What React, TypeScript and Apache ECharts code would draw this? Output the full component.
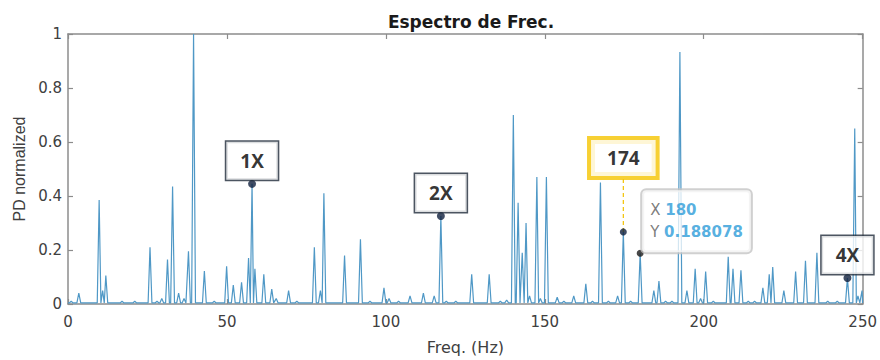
import React, { useEffect, useRef } from "react";
import * as echarts from "echarts";

// Spectrum peaks (frequency in Hz, normalized amplitude)
const peakFreqs = [
  1.0, 3.4, 9.8, 10.9, 11.9, 17.0, 21.0, 25.8, 28.0, 29.5, 31.3, 32.9, 34.8, 36.5, 37.9, 39.5,
  42.9, 46.0, 49.9, 52.0, 54.6, 56.8, 57.9, 58.8, 61.6, 64.1, 65.5, 69.4, 72.0, 77.5, 79.4,
  80.5, 87.0, 92.0, 95.0, 99.4, 101.0, 104.0, 107.6, 111.8, 115.2, 117.3, 119.0, 122.0, 127.0,
  132.5, 136.0, 138.0, 140.1, 141.6, 142.9, 144.1, 145.2, 147.5, 148.6, 150.5, 153.9, 156.0,
  159.1, 162.9, 165.0, 167.5, 170.0, 172.9, 174.7, 177.0, 180.0, 184.3, 185.9, 188.0, 190.0,
  192.5, 194.7, 197.3, 199.0, 200.6, 203.0, 207.7, 209.2, 211.7, 214.0, 216.0, 218.6, 220.6,
  221.7, 225.2, 228.9, 232.0, 235.6, 239.0, 242.0, 245.2, 247.5, 248.5, 249.8,
];
const peakAmps = [
  0.01, 0.04, 0.385, 0.05, 0.105, 0.01, 0.01, 0.21, 0.01, 0.02, 0.165, 0.435, 0.04, 0.02, 0.195, 1.0,
  0.122, 0.01, 0.14, 0.07, 0.08, 0.17, 0.445, 0.13, 0.11, 0.055, 0.02, 0.05, 0.01, 0.21, 0.05,
  0.41, 0.18, 0.24, 0.01, 0.06, 0.02, 0.01, 0.03, 0.04, 0.03, 0.326, 0.01, 0.01, 0.11,
  0.11, 0.01, 0.015, 0.7, 0.375, 0.19, 0.3, 0.03, 0.47, 0.02, 0.47, 0.025, 0.01,
  0.03, 0.075, 0.01, 0.45, 0.01, 0.03, 0.267, 0.01, 0.188078, 0.05, 0.085, 0.01, 0.01,
  0.933, 0.05, 0.13, 0.02, 0.12, 0.01, 0.175, 0.13, 0.125, 0.01, 0.01, 0.06, 0.11,
  0.137, 0.05, 0.12, 0.16, 0.19, 0.01, 0.01, 0.096, 0.65, 0.03, 0.05,
];
const baseLevel = 0.004;

// Harmonic markers
const markerLabels = ["1X", "2X", "4X"];
const markerFreqs = [57.9, 117.3, 245.2];
const markerAmps = [0.445, 0.326, 0.096];

// Highlighted "174" callout
const calloutLabel = "174";
const calloutFreq = 174.7;
const calloutAmp = 0.267;
const calloutBoxAmp = 0.474;

// Data tip
const tipFreq = 180;
const tipAmp = 0.188078;

const xTicks = { min: 0, max: 250, interval: 50 };
const yTicks = { min: 0, max: 1, interval: 0.2 };

function buildSpectrum(): number[][] {
  const pts: number[][] = [[xTicks.min, baseLevel]];
  for (let i = 0; i < peakFreqs.length; i++) {
    const f = peakFreqs[i];
    const prev = i > 0 ? peakFreqs[i - 1] : xTicks.min - 10;
    const next = i < peakFreqs.length - 1 ? peakFreqs[i + 1] : xTicks.max + 10;
    const wl = Math.min(0.6, (f - prev) / 2);
    const wr = Math.min(0.6, (next - f) / 2);
    pts.push([Math.max(xTicks.min, f - wl), baseLevel]);
    pts.push([f, peakAmps[i]]);
    pts.push([Math.min(xTicks.max, f + wr), baseLevel]);
  }
  pts.push([xTicks.max, baseLevel]);
  return pts;
}

const axisGrey = "#8c8c8c";
const textGrey = "#404040";

export default function App() {
  const ref = useRef<HTMLDivElement>(null);
  useEffect(() => {
    if (!ref.current) return;
    const chart = echarts.init(ref.current, undefined, { renderer: "svg" });
    const tickStyle = { show: true, inside: true, length: 5, lineStyle: { color: axisGrey, width: 1.2 } };
    const lineStyle = { show: true, onZero: false, lineStyle: { color: axisGrey, width: 1.5 } };
    const boxLabel = {
      fontFamily: "Open Sans",
      fontWeight: "bold",
      fontSize: 19,
      lineHeight: 22,
      color: "#000",
      backgroundColor: "#ffffff",
    };
    chart.setOption({
      animation: false,
      backgroundColor: "#ffffff",
      title: {
        text: "Espectro de Frec.",
        left: 466,
        top: 8,
        textAlign: "center",
        textStyle: { fontFamily: "DejaVu Sans", fontWeight: "bold", fontSize: 17, color: "#1a1a1a" },
      },
      grid: { left: 68, right: 16, top: 34, bottom: 56 },
      xAxis: [
        {
          type: "value",
          position: "bottom",
          ...xTicks,
          name: "Freq. (Hz)",
          nameLocation: "middle",
          nameGap: 35,
          nameTextStyle: { fontFamily: "DejaVu Sans", fontSize: 16, color: textGrey },
          axisLine: lineStyle,
          axisTick: tickStyle,
          splitLine: { show: false },
          axisLabel: { fontFamily: "DejaVu Sans", fontSize: 15, color: textGrey, margin: 10 },
        },
        {
          type: "value",
          position: "top",
          ...xTicks,
          axisLine: lineStyle,
          axisTick: tickStyle,
          splitLine: { show: false },
          axisLabel: { show: false },
        },
      ],
      yAxis: [
        {
          type: "value",
          position: "left",
          ...yTicks,
          name: "PD normalized",
          nameLocation: "middle",
          nameGap: 40,
          nameTextStyle: { fontFamily: "Liberation Sans", fontSize: 16, color: textGrey },
          axisLine: lineStyle,
          axisTick: tickStyle,
          splitLine: { show: false },
          axisLabel: { fontFamily: "DejaVu Sans", fontSize: 15, color: textGrey, margin: 6 },
        },
        {
          type: "value",
          position: "right",
          ...yTicks,
          axisLine: lineStyle,
          axisTick: tickStyle,
          splitLine: { show: false },
          axisLabel: { show: false },
        },
      ],
      series: [
        {
          name: "spectrum",
          type: "line",
          data: buildSpectrum(),
          symbol: "none",
          lineStyle: { color: "#4f98c6", width: 1.2 },
          z: 2,
        },
        {
          name: "callout-leader",
          type: "line",
          data: [
            [calloutFreq, calloutAmp],
            [calloutFreq, calloutBoxAmp],
          ],
          symbol: "none",
          lineStyle: { color: "#f2c200", width: 1.2, type: [4, 3] },
          z: 3,
        },
        {
          name: "markers",
          type: "scatter",
          data: markerFreqs.map((f, i) => [f, markerAmps[i]]),
          symbol: "circle",
          symbolSize: 8,
          itemStyle: { color: "#0f1f3d" },
          z: 6,
          label: {
            show: true,
            position: "top",
            distance: 0,
            formatter: (p: any) => markerLabels[p.dataIndex],
            ...boxLabel,
            borderColor: "#1f2b3a",
            borderWidth: 1.5,
            padding: [8, 14],
          },
        },
        {
          name: "callout-dot",
          type: "scatter",
          data: [[calloutFreq, calloutAmp]],
          symbol: "circle",
          symbolSize: 7,
          itemStyle: { color: "#0f1f3d" },
          z: 6,
        },
        {
          name: "callout-box",
          type: "scatter",
          data: [[calloutFreq, calloutBoxAmp]],
          symbol: "circle",
          symbolSize: 0.1,
          itemStyle: { color: "rgba(0,0,0,0)" },
          z: 7,
          label: {
            show: true,
            position: "top",
            distance: 0,
            formatter: calloutLabel,
            ...boxLabel,
            borderColor: "#f5c400",
            borderWidth: 4,
            padding: [7, 16],
          },
        },
        {
          name: "datatip",
          type: "scatter",
          data: [[tipFreq, tipAmp]],
          symbol: "circle",
          symbolSize: 7,
          itemStyle: { color: "#1a1a1a" },
          z: 8,
          label: {
            show: true,
            position: [5.5, 2.5],
            align: "left",
            verticalAlign: "bottom",
            formatter: `{k|X }{v|${tipFreq}}\n{k|Y }{v|${tipAmp}}`,
            backgroundColor: "rgba(255,255,255,0.94)",
            borderColor: "#c4c4c4",
            borderWidth: 2,
            borderRadius: 4,
            padding: [9, 8],
            rich: {
              k: { fontFamily: "DejaVu Sans", fontSize: 15, color: "#5a5a5a", lineHeight: 22 },
              v: { fontFamily: "DejaVu Sans", fontSize: 15, fontWeight: "bold", color: "#2b9bd8", lineHeight: 22 },
            },
          },
        },
      ],
    });
    return () => chart.dispose();
  }, []);
  return (
    <div
      ref={ref}
      style={{ position: "fixed", left: 0, top: 0, width: 880, height: 360, background: "#fff" }}
    />
  );
}
